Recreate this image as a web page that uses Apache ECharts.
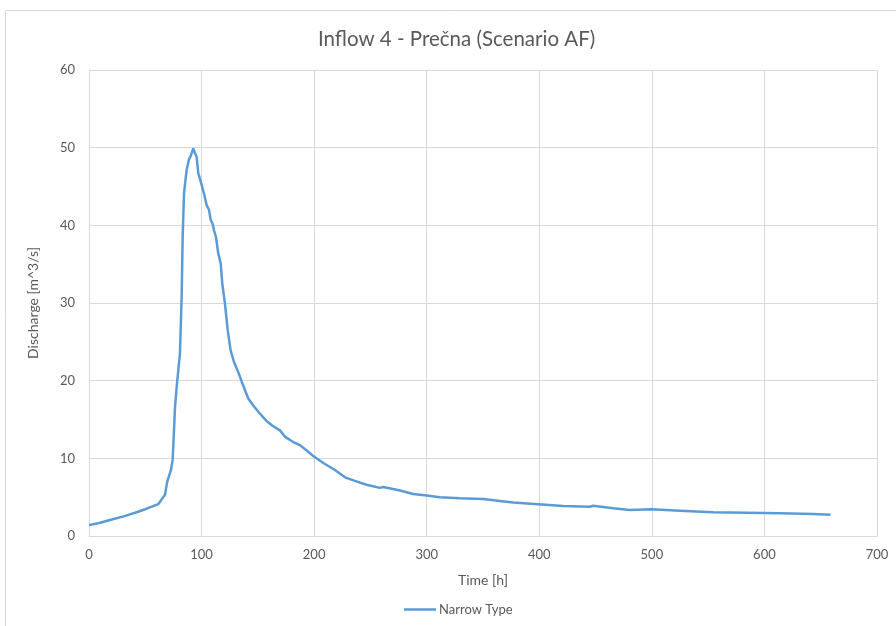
<!DOCTYPE html>
<html>
<head>
<meta charset="utf-8">
<script src="https://cdn.jsdelivr.net/npm/echarts@6/dist/echarts.min.js"></script>
<style>
  html, body { margin: 0; padding: 0; background: #ffffff; }
  #chart { width: 896px; height: 626px; }
</style>
</head>
<body>
<div id="chart"></div>
<script>
// Time in hours
const timeH = [0, 10, 18.6, 30, 40.9, 50, 61.5, 67.5, 69.5, 72.8, 74.3, 75.5, 76.4, 77.9, 79.9, 80.8,
  82.3, 83.2, 84.4, 86.7, 88.8, 90.6, 92.6, 94.1, 95.6, 97.1, 100.1, 102.1, 104.5, 106.6, 108.1,
  109.8, 111, 112.8, 114.8, 117, 118.4, 120.8, 123.2, 125.8, 128.8, 132.6, 135.6, 138.5, 141.5,
  145.4, 150.4, 157.8, 163, 169.6, 174, 181.4, 187.4, 193.3, 199.2, 208.1, 218.5, 227.4, 236.2, 246.6,
  258.4, 261.4, 276.2, 288, 299.9, 311.7, 329.5, 350.2, 365, 376.8, 399, 421.2, 444.9, 447.9,
  465.6, 480.5, 499.7, 524.9, 554.4, 584, 613.7, 643.2, 658.7];

// Discharge in m^3/s
const discharge = [1.4, 1.7, 2.05, 2.5, 3.0, 3.45, 4.1, 5.3, 7.0, 8.5, 9.8, 13.6, 16.6, 19.2, 22.2, 23.5,
  30.8, 38.5, 44.1, 47.1, 48.5, 49.0, 49.9, 49.3, 48.8, 46.7, 45.2, 44.1, 42.6, 42.0, 40.7,
  40.2, 39.4, 38.5, 36.4, 35.1, 32.5, 29.9, 26.5, 23.9, 22.4, 21.1, 19.9, 18.8, 17.7,
  16.9, 16.0, 14.8, 14.2, 13.6, 12.8, 12.1, 11.7, 11.0, 10.3, 9.4, 8.5, 7.55, 7.1, 6.6,
  6.2, 6.3, 5.85, 5.4, 5.2, 5.0, 4.85, 4.75, 4.5, 4.3, 4.1, 3.86, 3.77, 3.9,
  3.56, 3.35, 3.43, 3.26, 3.05, 3.0, 2.92, 2.83, 2.74];

const seriesName = 'Narrow Type';
const titleText = 'Inflow 4 - Prečna (Scenario AF)';

const textColor = '#595959';
const gridColor = '#d9d9d9';
const font = 'Lato, "Open Sans", sans-serif';

const chart = echarts.init(document.getElementById('chart'));
chart.setOption({
  backgroundColor: '#ffffff',
  animation: false,
  textStyle: { fontFamily: font },
  graphic: [{
    type: 'rect',
    shape: { x: 5.5, y: 10.5, width: 895, height: 620 },
    style: { fill: 'none', stroke: gridColor, lineWidth: 1 },
    silent: true
  }],
  title: {
    text: titleText,
    left: 313,
    top: 24,
    textStyle: { fontFamily: font, fontSize: 20.5, fontWeight: 'normal', color: textColor }
  },
  legend: {
    bottom: 5,
    left: 399,
    data: [{ name: seriesName, icon: 'rect' }],
    itemWidth: 32,
    itemHeight: 2.5,
    itemGap: 4,
    textStyle: { fontFamily: font, fontSize: 13, color: textColor, padding: [0, 0, 0, -2] }
  },
  grid: { left: 89, right: 19, top: 70, bottom: 90, containLabel: false },
  xAxis: {
    type: 'value',
    min: 0, max: 700, interval: 100,
    name: 'Time [h]',
    nameLocation: 'middle',
    nameGap: 37,
    nameTextStyle: { fontFamily: font, fontSize: 14, color: textColor },
    axisLine: { show: true, lineStyle: { color: gridColor, width: 1 } },
    axisTick: { show: false },
    axisLabel: { color: textColor, fontSize: 13, fontFamily: font, margin: 12 },
    splitLine: { show: true, lineStyle: { color: gridColor, width: 1 } }
  },
  yAxis: {
    type: 'value',
    min: 0, max: 60, interval: 10,
    name: 'Discharge [m^3/s]',
    nameLocation: 'middle',
    nameRotate: 90,
    nameGap: 49,
    nameTextStyle: { fontFamily: font, fontSize: 14, color: textColor },
    axisLine: { show: false },
    axisTick: { show: false },
    axisLabel: { color: textColor, fontSize: 13, fontFamily: font, margin: 14 },
    splitLine: { show: true, lineStyle: { color: gridColor, width: 1 } }
  },
  series: [{
    name: seriesName,
    type: 'line',
    data: timeH.map((t, i) => [t, discharge[i]]),
    showSymbol: false,
    symbol: 'none',
    smooth: false,
    lineStyle: { color: '#5b9bd5', width: 2.5 },
    itemStyle: { color: '#5b9bd5' }
  }]
});
</script>
</body>
</html>
